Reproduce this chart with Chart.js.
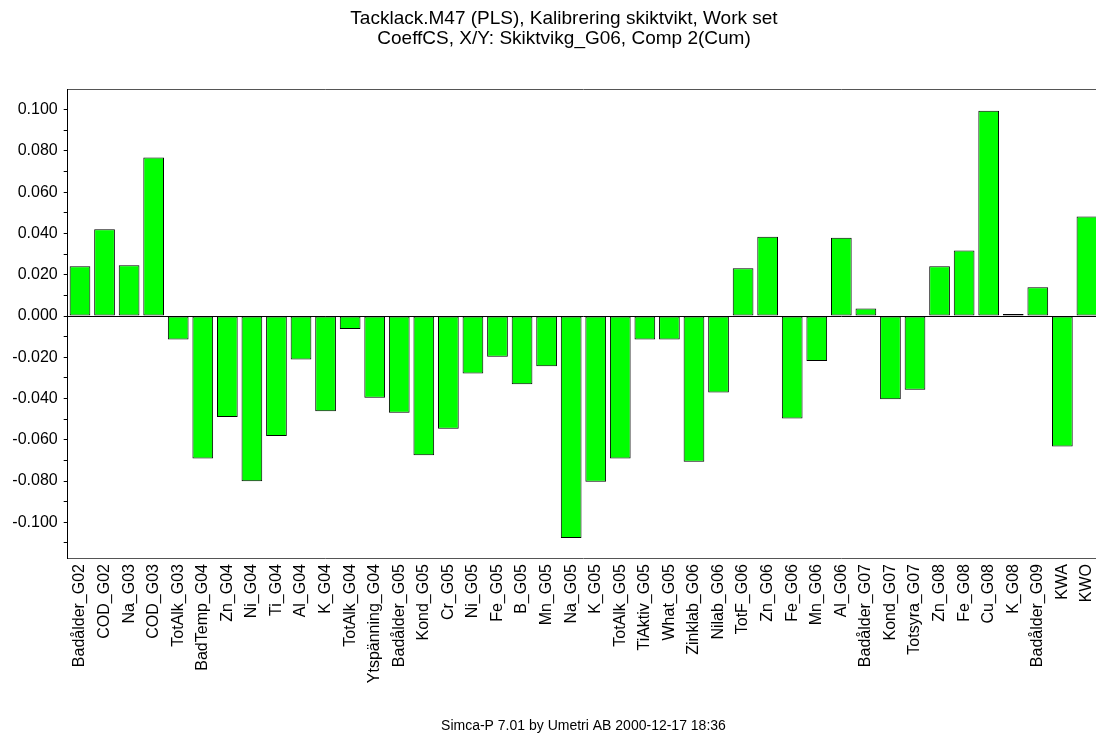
<!DOCTYPE html>
<html>
<head>
<meta charset="utf-8">
<script src="https://cdn.jsdelivr.net/npm/chart.js@4/dist/chart.umd.min.js"></script>
<style>
  html, body { margin: 0; padding: 0; background: #fff; overflow: hidden; }
  #wrap { width: 1128px; height: 738px; }
</style>
</head>
<body>
<div id="wrap"><canvas id="c" width="1128" height="738"></canvas></div>
<script>
const titleLines = ['Tacklack.M47 (PLS), Kalibrering skiktvikt, Work set', 'CoeffCS, X/Y: Skiktvikg_G06, Comp 2(Cum)'];
const footerText = 'Simca-P 7.01 by Umetri AB 2000-12-17 18:36';

const categories = [
  'Badålder_G02', 'COD_G02', 'Na_G03', 'COD_G03', 'TotAlk_G03', 'BadTemp_G04', 'Zn_G04', 'Ni_G04',
  'Ti_G04', 'Al_G04', 'K_G04', 'TotAlk_G04', 'Ytspänning_G04', 'Badålder_G05', 'Kond_G05', 'Cr_G05',
  'Ni_G05', 'Fe_G05', 'B_G05', 'Mn_G05', 'Na_G05', 'K_G05', 'TotAlk_G05', 'TiAktiv_G05',
  'What_G05', 'Zinklab_G06', 'Nilab_G06', 'TotF_G06', 'Zn_G06', 'Fe_G06', 'Mn_G06', 'Al_G06',
  'Badålder_G07', 'Kond_G07', 'Totsyra_G07', 'Zn_G08', 'Fe_G08', 'Cu_G08', 'K_G08', 'Badålder_G09',
  'KWA', 'KWO'
];

const coeffValues = [
  0.0241, 0.0420, 0.0246, 0.0769, -0.0114, -0.0691, -0.0490, -0.0801,
  -0.0582, -0.0211, -0.0462, -0.0063, -0.0396, -0.0469, -0.0675, -0.0546,
  -0.0279, -0.0197, -0.0331, -0.0244, -0.1076, -0.0803, -0.0691, -0.0114,
  -0.0114, -0.0706, -0.0371, 0.0231, 0.0384, -0.0497, -0.0218, 0.0380,
  0.0036, -0.0404, -0.0357, 0.0241, 0.0318, 0.0995, 0.0010, 0.0139,
  -0.0632, 0.0483
];

const yTickLabels = ['0.100', '0.080', '0.060', '0.040', '0.020', '0.000',
  '-0.020', '-0.040', '-0.060', '-0.080', '-0.100'];
const yMin = -0.1173;
const yMax = 0.1099;
const yStep = 0.01;

const FONT = "'Liberation Sans', Arial, sans-serif";

new Chart(document.getElementById('c'), {
  type: 'bar',
  data: {
    labels: categories,
    datasets: [{
      data: coeffValues,
      backgroundColor: '#00ff00',
      borderColor: '#000000',
      borderWidth: 1,
      borderSkipped: false,
      categoryPercentage: 1.0,
      barPercentage: 0.843,
      xAxisID: 'x',
      yAxisID: 'y'
    }]
  },
  options: {
    responsive: false,
    animation: false,
    devicePixelRatio: 1,
    layout: { padding: 0 },
    plugins: {
      legend: { display: false },
      tooltip: { enabled: false },
      title: {
        display: true,
        text: titleLines,
        color: '#000',
        font: { family: FONT, size: 19, weight: 'normal', lineHeight: '20px' },
        padding: { top: 8.5, bottom: 40.8 }
      },
      subtitle: {
        display: true,
        position: 'bottom',
        fullSize: false,
        text: footerText,
        color: '#000',
        font: { family: FONT, size: 14, weight: 'normal', lineHeight: 1.2 },
        padding: { top: 0, bottom: 3 }
      }
    },
    scales: {
      x: {
        type: 'category',
        position: 'bottom',
        offset: true,
        grid: { display: false, drawTicks: false },
        border: { display: true, color: '#555', width: 1 },
        ticks: {
          color: '#000',
          font: { family: FONT, size: 16 },
          minRotation: 90,
          maxRotation: 90,
          autoSkip: false,
          padding: 6
        },
        afterFit: (s) => { s.height = 738 - 558 - 16.8 - 3; }
      },
      xTop: {
        type: 'category',
        position: 'top',
        offset: true,
        grid: { display: false, drawTicks: false },
        border: { display: true, color: '#555', width: 1 },
        ticks: { display: false },
        afterFit: (s) => { s.height = 0; }
      },
      y: {
        type: 'linear',
        position: 'left',
        min: yMin,
        max: yMax,
        grid: {
          display: true,
          drawOnChartArea: true,
          drawTicks: true,
          tickLength: 4,
          tickColor: '#000',
          color: (ctx) => (ctx.tick && Math.abs(ctx.tick.value) < 1e-9) ? '#000' : 'rgba(0,0,0,0)',
          lineWidth: 1
        },
        border: { display: true, color: '#000', width: 1 },
        ticks: {
          stepSize: yStep,
          includeBounds: false,
          autoSkip: false,
          color: '#000',
          padding: 6,
          font: { family: FONT, size: 16 },
          callback: (v) => {
            const n = Math.round(v * 100);
            if (n % 2 !== 0) return '';
            const idx = (10 - n) / 2;
            return yTickLabels[idx] !== undefined ? yTickLabels[idx] : '';
          }
        },
        afterFit: (s) => { s.width = 67.7; }
      },
      yRight: {
        type: 'linear',
        position: 'right',
        min: yMin,
        max: yMax,
        grid: { display: false, drawTicks: false },
        border: { display: true, color: '#555', width: 1 },
        ticks: { display: false },
        afterFit: (s) => { s.width = 28.8; }
      }
    }
  }
});
</script>
</body>
</html>
